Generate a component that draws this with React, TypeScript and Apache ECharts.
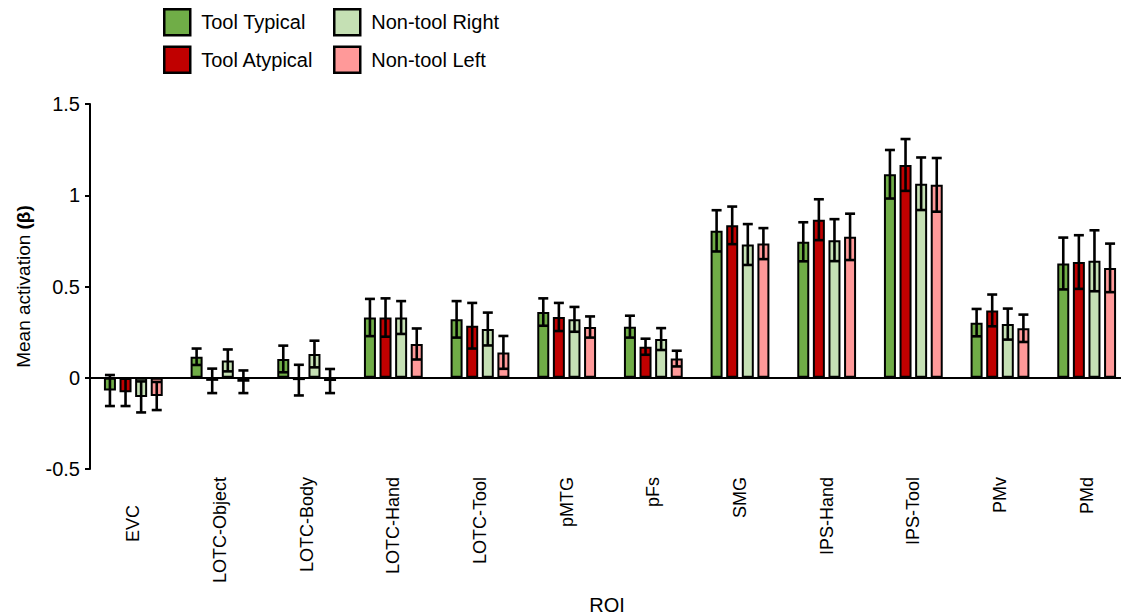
import React, { useEffect, useRef } from 'react';
import * as echarts from 'echarts';

const categories = ['EVC', 'LOTC-Object', 'LOTC-Body', 'LOTC-Hand', 'LOTC-Tool', 'pMTG', 'pFs', 'SMG', 'IPS-Hand', 'IPS-Tool', 'PMv', 'PMd'];
const seriesNames = ['Tool Typical', 'Tool Atypical', 'Non-tool Right', 'Non-tool Left'];
const seriesColors = ['#70AD47', '#C00000', '#C5E0B4', '#FF9999'];

const toolTypical = [-0.07, 0.115, 0.103, 0.33, 0.32, 0.36, 0.28, 0.805, 0.745, 1.115, 0.302, 0.626];
const toolTypicalErr = [0.085, 0.045, 0.073, 0.102, 0.1, 0.075, 0.06, 0.113, 0.107, 0.133, 0.075, 0.142];
const toolAtypical = [-0.08, -0.017, -0.013, 0.33, 0.285, 0.333, 0.17, 0.835, 0.866, 1.166, 0.369, 0.634];
const toolAtypicalErr = [0.075, 0.067, 0.084, 0.105, 0.125, 0.077, 0.044, 0.103, 0.112, 0.142, 0.087, 0.147];
const nonToolRight = [-0.105, 0.095, 0.13, 0.33, 0.267, 0.32, 0.212, 0.73, 0.754, 1.063, 0.294, 0.641];
const nonToolRightErr = [0.085, 0.06, 0.073, 0.09, 0.09, 0.068, 0.06, 0.112, 0.115, 0.144, 0.085, 0.167];
const nonToolLeft = [-0.1, -0.022, -0.018, 0.185, 0.139, 0.278, 0.105, 0.735, 0.772, 1.057, 0.271, 0.602];
const nonToolLeftErr = [0.077, 0.062, 0.066, 0.085, 0.09, 0.058, 0.043, 0.085, 0.127, 0.147, 0.075, 0.133];

const yTicks = { min: -0.5, max: 1.5, interval: 0.5 };

const values = [toolTypical, toolAtypical, nonToolRight, nonToolLeft];
const errors = [toolTypicalErr, toolAtypicalErr, nonToolRightErr, nonToolLeftErr];

const BAR_W = 12;
const BAR_GAP = 0.3;
const FONT = '"Liberation Sans", Arial, sans-serif';

export default function App() {
  const ref = useRef<HTMLDivElement>(null);
  useEffect(() => {
    document.body.style.margin = '0';
    const chart = echarts.init(ref.current!, null, { renderer: 'svg' });
    const pitch = BAR_W * (1 + BAR_GAP);
    const errData: number[][] = [];
    values.forEach((arr, s) => arr.forEach((v, c) => errData.push([c, s, v, errors[s][c]])));

    const barSeries = seriesNames.map((name, s) => ({
      name,
      type: 'bar',
      data: values[s],
      barWidth: BAR_W,
      barGap: BAR_GAP * 100 + '%',
      itemStyle: { color: seriesColors[s], borderColor: '#000', borderWidth: 2 },
      z: 2,
      ...(s === 0
        ? {
            markLine: {
              silent: true,
              symbol: 'none',
              label: { show: false },
              lineStyle: { color: '#000', width: 2, type: 'solid' },
              data: [{ yAxis: 0 }],
              z: 5,
            },
          }
        : {}),
    }));

    const legendBase = {
      orient: 'vertical',
      top: 8,
      padding: 0,
      itemWidth: 26,
      itemHeight: 26,
      itemGap: 9,
      icon: 'rect',
      itemStyle: { borderColor: '#000', borderWidth: 2.5 },
      textStyle: { fontSize: 20, color: '#000', fontFamily: FONT, padding: [0, 0, 0, 6] },
    };

    const option: any = {
      animation: false,
      textStyle: { fontFamily: FONT, color: '#000' },
      grid: { left: 90, width: 1040, top: 104, height: 365, containLabel: false, outerBoundsMode: 'none' },
      legend: [
        { ...legendBase, data: seriesNames.slice(0, 2), left: 163 },
        { ...legendBase, data: seriesNames.slice(2, 4), left: 333 },
      ],
      xAxis: {
        type: 'category',
        data: categories,
        axisLine: { show: false, onZero: false },
        axisTick: { show: false },
        axisLabel: {
          rotate: 90,
          fontSize: 18,
          color: '#000',
          margin: 8,
          fontFamily: FONT,
          formatter: (v: string) => (v === categories[0] ? '{t|' + v + '}' : v),
          rich: {
            t: { fontSize: 18, fontFamily: FONT, color: '#000', padding: [0, 28, 0, 0] },
          },
        },
        name: 'ROI',
        nameLocation: 'middle',
        nameGap: 126,
        nameTextStyle: { fontSize: 20, color: '#000', fontFamily: '"Liberation Sans Narrow", "Liberation Sans", Arial', padding: [0, 6, 0, 0] },
      },
      yAxis: {
        type: 'value',
        min: yTicks.min,
        max: yTicks.max,
        interval: yTicks.interval,
        splitLine: { show: false },
        axisLine: { show: true, lineStyle: { color: '#000', width: 2 } },
        axisTick: { show: true, length: 5, lineStyle: { color: '#000', width: 2 } },
        axisLabel: { fontSize: 20, color: '#000', margin: 10, fontFamily: FONT, formatter: (v: number) => String(v) },
        name: 'Mean activation {b|(β)}',
        nameLocation: 'middle',
        nameGap: 57,
        nameTextStyle: {
          fontSize: 19,
          color: '#000',
          fontFamily: FONT,
          rich: { b: { fontSize: 19, fontWeight: 'bold', color: '#000', fontFamily: FONT } },
        },
      },
      series: [
        ...barSeries,
        {
          type: 'custom',
          name: 'errors',
          data: errData,
          encode: { x: 0, y: 2 },
          z: 10,
          silent: true,
          renderItem: (params: any, api: any) => {
            const c = api.value(0);
            const s = api.value(1);
            const v = api.value(2);
            const e = api.value(3);
            const top = api.coord([c, v + e]);
            const bot = api.coord([c, v - e]);
            const x = top[0] + (s - 1.5) * pitch;
            const cap = 5;
            const style = { stroke: '#000', lineWidth: 2.6 };
            return {
              type: 'group',
              children: [
                { type: 'line', shape: { x1: x, y1: top[1], x2: x, y2: bot[1] }, style },
                { type: 'line', shape: { x1: x - cap, y1: top[1], x2: x + cap, y2: top[1] }, style },
                { type: 'line', shape: { x1: x - cap, y1: bot[1], x2: x + cap, y2: bot[1] }, style },
              ],
            };
          },
        },
      ],
    };
    chart.setOption(option);
    return () => chart.dispose();
  }, []);
  return <div ref={ref} style={{ width: 1121, height: 615 }} />;
}
